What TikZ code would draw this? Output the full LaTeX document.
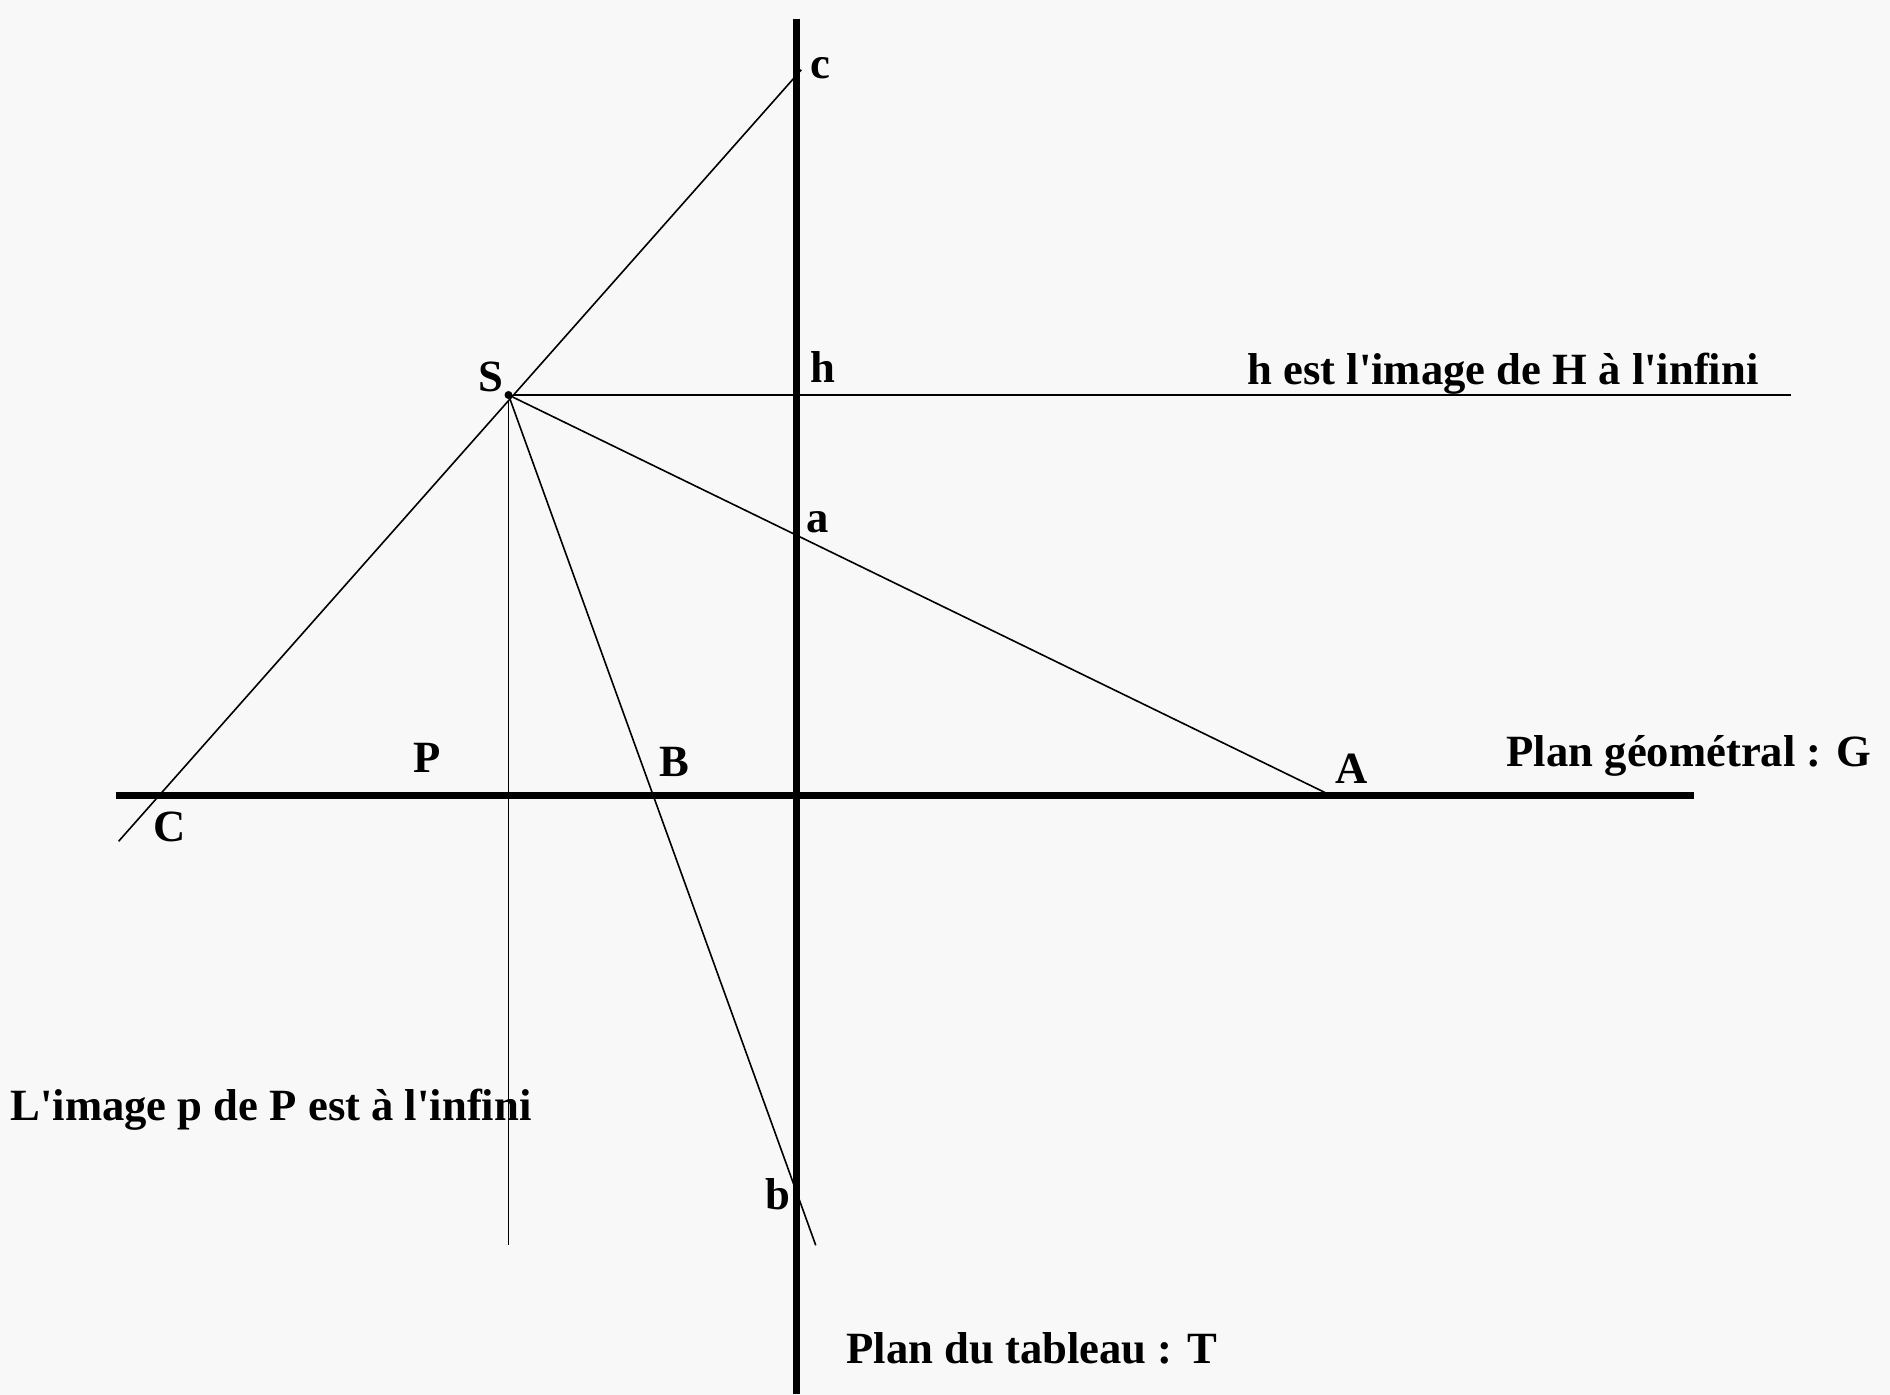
\documentclass[tikz,border=0pt]{standalone}
\usepackage{fontspec}
\newfontfamily\labfont{Liberation Serif}
\usepackage{xcolor}
\definecolor{fond}{RGB}{248,248,248}
\tikzset{lab/.style={font=\labfont\fontsize{12.7}{14}\selectfont\bfseries,inner sep=0pt,anchor=base},
pt/.style={inner sep=0pt,minimum size=0pt}}
\begin{document}
\begin{tikzpicture}[x=0.01cm,y=-0.01cm]
\fill[fond] (0,0) rectangle (1890,1395);
\useasboundingbox (0,0) rectangle (1890,1395);
\node[circle,fill=black,inner sep=0pt,minimum size=0.08cm] (S) at (508.5,395) {};
\node[pt] (TH) at (796.5,18) {};
\node[pt] (TB) at (796.5,1395) {};
\node[pt] (GL) at (115,795.5) {};
\node[pt] (GR) at (1695,795.5) {};
\node[pt] (HR) at (1792,395) {};
\node[pt] (C) at (118,842) {};
\node[pt] (CH) at (802,69) {};
\node[pt] (A) at (1328,794) {};
\node[pt] (BB) at (816,1246) {};
\node[pt] (PB) at (508.5,1246) {};
\path[draw,line width=0.07cm]
(TH) edge (TB)
(GL) edge (GR);
\path[draw,line width=0.016cm]
(S) edge (HR)
(C) edge (CH)
(S) edge (A)
(S) edge (BB)
(S) edge (PB);
\node[lab] (lc) at (820,79) {c};
\node[lab] (lS) at (491,392) {S};
\node[lab] (lh) at (823,383) {h};
\node[lab] (la) at (818,533) {a};
\node[lab] (lb) at (778,1210) {b};
\node[lab] (lP) at (427,773) {P};
\node[lab] (lB) at (674,777) {B};
\node[lab] (lA) at (1352,784) {A};
\node[lab] (lC) at (170,842) {C};
\node[lab] (tH) at (1503,385) {h est l'image de H à l'infini};
\node[lab] (tG) at (1689,767) {Plan géométral : G};
\node[lab] (tP) at (271,1121) {L'image p de P est à l'infini};
\node[lab] (tT) at (1032,1364) {Plan du tableau : T};
\end{tikzpicture}
\end{document}
